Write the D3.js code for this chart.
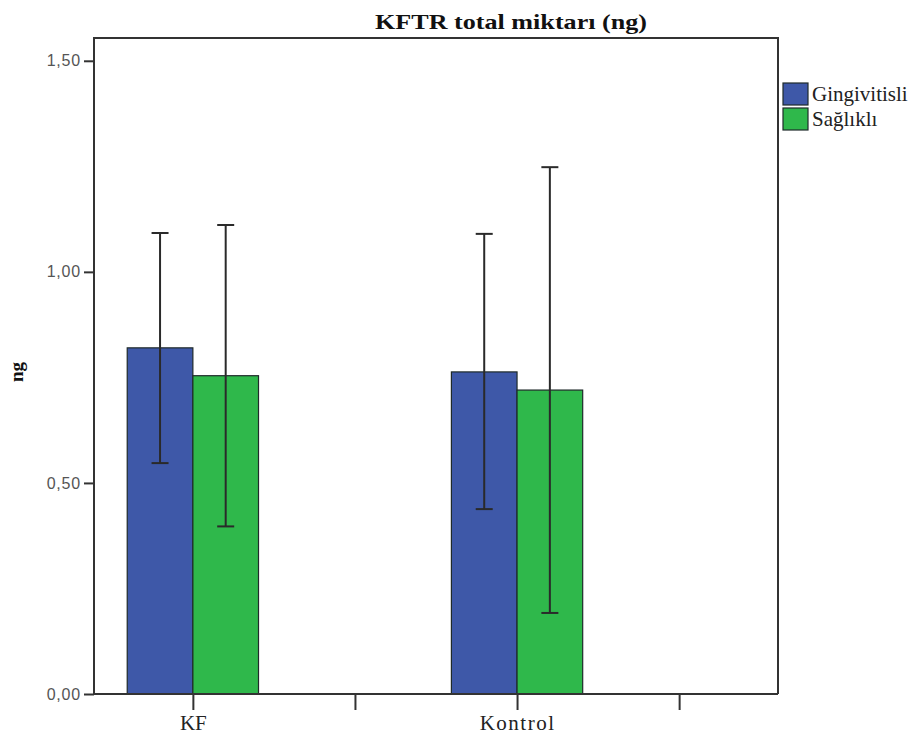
<!DOCTYPE html>
<html lang="en">
<head>
  <meta charset="UTF-8" />
  <title>KFTR total miktarı (ng)</title>
  <script src="https://d3js.org/d3.v7.min.js"></script>
  <style>
    body {
      margin: 0;
      background: #fff;
    }
    svg {
      display: block;
    }
  </style>
</head>
<body>
  <svg id="chart" width="923" height="742"></svg>

  <script>
    // data
    const categories = ["KF", "", "Kontrol", " "];
    const groups = ["Gingivitisli", "Sağlıklı"];
    const means = {
      "KF": [0.820, 0.754],
      "Kontrol": [0.763, 0.720]
    };
    const errLow = {
      "KF": [0.547, 0.397],
      "Kontrol": [0.438, 0.192]
    };
    const errHigh = {
      "KF": [1.092, 1.111],
      "Kontrol": [1.090, 1.248]
    };
    const yTicks = [0, 0.5, 1.0, 1.5];
    const colors = ["#3e58a8", "#2fb84b"];

    const serif = "'Liberation Serif', 'Times New Roman', serif";
    const sans = "'Liberation Sans', Arial, sans-serif";

    const svg = d3.select("#chart");
    const frame = { left: 94, right: 778, top: 38, bottom: 694 };

    const x = d3.scalePoint()
      .domain(categories)
      .range([frame.left, frame.right])
      .padding(0.61);

    const barW = x.step() * 0.405;
    const x1 = d3.scaleBand()
      .domain(groups)
      .range([-barW, barW]);

    const y = d3.scaleLinear()
      .domain([0, 1.554])
      .range([frame.bottom, frame.top]);

    const fmt = d => d3.format(".2f")(d).replace(".", ",");

    // frame
    svg.append("path")
      .attr("d", `M${frame.left},${frame.bottom}V${frame.top}H${frame.right}V${frame.bottom}`)
      .attr("fill", "none")
      .attr("stroke", "#333")
      .attr("stroke-width", 2);

    // bars
    const data = [];
    Object.keys(means).forEach(cat => {
      groups.forEach((g, i) => {
        data.push({ cat, g, i, v: means[cat][i], lo: errLow[cat][i], hi: errHigh[cat][i] });
      });
    });

    svg.append("g").selectAll("rect")
      .data(data)
      .join("rect")
      .attr("x", d => x(d.cat) + x1(d.g))
      .attr("y", d => y(d.v))
      .attr("width", x1.bandwidth())
      .attr("height", d => y(0) - y(d.v))
      .attr("fill", d => colors[d.i])
      .attr("stroke", "#1f2a2a")
      .attr("stroke-width", 1.2);

    // error bars
    const eb = svg.append("g")
      .attr("stroke", "#2a2a2a")
      .attr("stroke-width", 2);
    data.forEach(d => {
      const cx = x(d.cat) + x1(d.g) + x1.bandwidth() / 2;
      eb.append("line")
        .attr("x1", cx).attr("x2", cx)
        .attr("y1", y(d.hi)).attr("y2", y(d.lo));
      [d.hi, d.lo].forEach(v => {
        eb.append("line")
          .attr("x1", cx - 8.5).attr("x2", cx + 8.5)
          .attr("y1", y(v)).attr("y2", y(v));
      });
    });

    // y axis
    const yAxis = d3.axisLeft(y)
      .tickValues(yTicks)
      .tickFormat(fmt)
      .tickSize(10)
      .tickPadding(3);
    svg.append("g")
      .attr("transform", `translate(${frame.left},0)`)
      .call(yAxis)
      .call(g => g.select(".domain").remove())
      .call(g => g.selectAll("line").attr("stroke", "#333").attr("stroke-width", 2))
      .call(g => g.selectAll("text")
        .attr("font-family", sans)
        .attr("font-size", 16)
        .attr("letter-spacing", 0.8)
        .attr("fill", "#555"));

    // x axis
    const xAxis = d3.axisBottom(x)
      .tickSize(16)
      .tickPadding(5);
    svg.append("g")
      .attr("transform", `translate(0,${frame.bottom})`)
      .call(xAxis)
      .call(g => g.select(".domain").remove())
      .call(g => g.selectAll("line").attr("stroke", "#333").attr("stroke-width", 2))
      .call(g => g.selectAll("text")
        .attr("font-family", serif)
        .attr("font-size", 21)
        .attr("letter-spacing", d => d === "Kontrol" ? 1.5 : 0)
        .attr("fill", "#222"));

    svg.append("line")
      .attr("x1", frame.left).attr("x2", frame.right)
      .attr("y1", frame.bottom).attr("y2", frame.bottom)
      .attr("stroke", "#333")
      .attr("stroke-width", 2);

    // title
    svg.append("text")
      .attr("x", 511)
      .attr("y", 29)
      .attr("text-anchor", "middle")
      .attr("font-family", serif)
      .attr("font-weight", "bold")
      .attr("font-size", 22)
      .attr("textLength", 272)
      .attr("lengthAdjust", "spacingAndGlyphs")
      .attr("fill", "#111")
      .text("KFTR total miktarı (ng)");

    // y label
    svg.append("text")
      .attr("transform", "translate(23,372) rotate(-90)")
      .attr("text-anchor", "middle")
      .attr("font-family", serif)
      .attr("font-weight", "bold")
      .attr("font-size", 19)
      .attr("fill", "#111")
      .text("ng");

    // legend
    const legend = svg.append("g")
      .attr("transform", "translate(783,83)");
    legend.selectAll("rect")
      .data(groups)
      .join("rect")
      .attr("x", 0)
      .attr("y", (d, i) => i * 25)
      .attr("width", 25)
      .attr("height", 22)
      .attr("fill", (d, i) => colors[i])
      .attr("stroke", "#1f2a2a")
      .attr("stroke-width", 1.2);
    legend.selectAll("text")
      .data(groups)
      .join("text")
      .attr("x", 29)
      .attr("y", (d, i) => i * 25 + 18)
      .attr("font-family", serif)
      .attr("font-size", 21)
      .attr("fill", "#222")
      .text(d => d);
  </script>
</body>
</html>
